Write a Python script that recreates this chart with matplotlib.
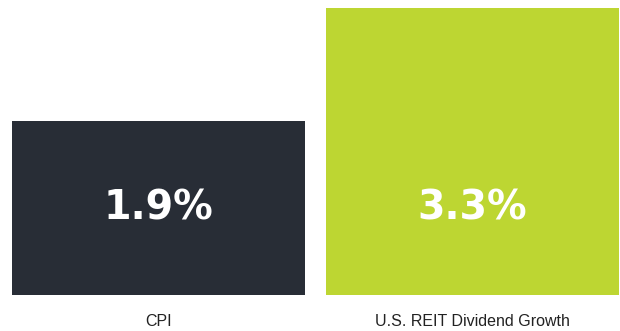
import matplotlib.pyplot as plt

categories = ['CPI', 'U.S. REIT Dividend Growth']
values = [1.9, 3.3]
value_labels = ['1.9%', '3.3%']
bar_colors = ['#282d36', '#bdd632']

# baseline of the value axis sits a little below zero
base = -0.256
width = 0.933

fig = plt.figure(figsize=(6.2, 3.31), dpi=100)
ax = fig.add_axes([12 / 620, 36 / 331, 607 / 620, 287 / 331])

x = list(range(len(categories)))
bars = ax.bar(x, [v - base for v in values], bottom=base, width=width,
              color=bar_colors, linewidth=0)

for xi, lab in zip(x, value_labels):
    ax.text(xi, 0.82, lab, ha='center', va='center', color='white',
            fontsize=28.5, fontweight='bold', family='DejaVu Sans')

ax.set_xlim(-width / 2, 1 + width / 2)
ax.set_ylim(base, 3.3)
ax.set_xticks(x)
ax.set_xticklabels(categories, fontsize=11.5, color='#222222',
                   family='Liberation Sans')
ax.tick_params(axis='x', length=0, pad=14)
ax.set_yticks([])
for s in ax.spines.values():
    s.set_visible(False)

fig.savefig('out.png', dpi=100)
